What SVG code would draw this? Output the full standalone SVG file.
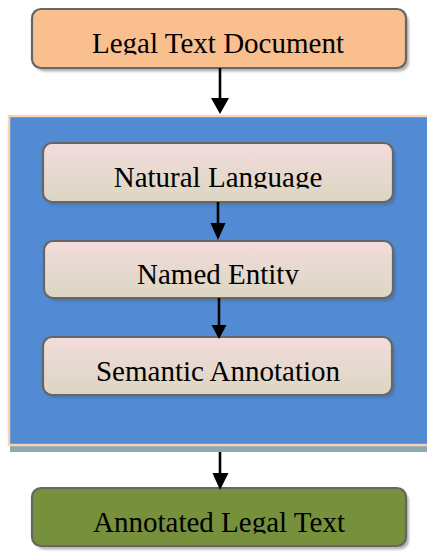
<svg xmlns="http://www.w3.org/2000/svg" width="427" height="552" viewBox="0 0 427 552">
  <style>
    .box { stroke: #666666; stroke-width: 2.2; }
    .lbl { font-family: "Liberation Serif", "Times New Roman", serif; font-size: 29px; fill: #000; text-anchor: middle; }
    .shadow-grey { fill: #b4b4b4; }
    .shadow-blue { fill: #4a78b8; }
    .wire { stroke: #000; stroke-width: 2.6; fill: none; }
    .head { fill: #000; }
  </style>
  <defs>
    <linearGradient id="stepFill" x1="0" y1="0" x2="0" y2="1">
      <stop offset="0" stop-color="#f3dcdc"/>
      <stop offset="1" stop-color="#dcd6c2"/>
    </linearGradient>
    <filter id="soft" x="-5%" y="-10%" width="110%" height="120%">
      <feGaussianBlur stdDeviation="0.8"/>
    </filter>
    <clipPath id="clipTop"><rect x="0" y="0" width="427" height="54.5"/></clipPath>
    <clipPath id="clipNL"><rect x="0" y="150" width="427" height="38.5"/></clipPath>
    <clipPath id="clipNE"><rect x="0" y="245" width="427" height="39.5"/></clipPath>
    <clipPath id="clipSA"><rect x="0" y="340" width="427" height="45"/></clipPath>
    <clipPath id="clipOut"><rect x="0" y="495" width="427" height="38.5"/></clipPath>
  </defs>

  <!-- source document -->
  <g id="legal-text-document">
    <rect class="shadow-grey" x="35" y="12.5" width="374" height="59" rx="9" filter="url(#soft)"/>
    <rect class="box" x="32" y="9" width="374" height="59" rx="9" fill="#f9bf8f"/>
    <text class="lbl" x="218" y="53" clip-path="url(#clipTop)">Legal Text Document</text>
  </g>

  <!-- processing pipeline container -->
  <g id="pipeline">
    <rect x="10" y="118" width="420" height="334" fill="#8eaaae"/>
    <rect x="9" y="116" width="420" height="329" fill="#528bd3" stroke="#fbd3b3" stroke-width="2.4"/>
  </g>

  <g id="natural-language">
    <rect class="shadow-blue" x="46" y="146.5" width="350" height="59" rx="9" filter="url(#soft)"/>
    <rect class="box" x="43" y="143" width="350" height="59" rx="9" fill="url(#stepFill)"/>
    <text class="lbl" x="218" y="187" clip-path="url(#clipNL)">Natural Language</text>
  </g>

  <g id="named-entity">
    <rect class="shadow-blue" x="47" y="244.5" width="349" height="57" rx="9" filter="url(#soft)"/>
    <rect class="box" x="44" y="241" width="349" height="57" rx="9" fill="url(#stepFill)"/>
    <text class="lbl" x="218" y="284" clip-path="url(#clipNE)">Named Entity</text>
  </g>

  <g id="semantic-annotation">
    <rect class="shadow-blue" x="46" y="340.5" width="349" height="58" rx="9" filter="url(#soft)"/>
    <rect class="box" x="43" y="337" width="349" height="58" rx="9" fill="url(#stepFill)"/>
    <text class="lbl" x="218" y="381" clip-path="url(#clipSA)">Semantic Annotation</text>
  </g>

  <!-- result -->
  <g id="annotated-legal-text">
    <rect class="shadow-grey" x="35" y="491.5" width="374" height="58" rx="9" filter="url(#soft)"/>
    <rect class="box" x="32" y="488" width="374" height="58" rx="9" fill="#76903b"/>
    <text class="lbl" x="219" y="532" clip-path="url(#clipOut)">Annotated Legal Text</text>
  </g>

  <!-- connectors -->
  <g id="connectors">
    <line class="wire" x1="220" y1="68" x2="220" y2="100"/>
    <polygon class="head" points="211,98 229,98 220,114"/>
    <line class="wire" x1="218" y1="202" x2="218" y2="225"/>
    <polygon class="head" points="210.5,223 225.5,223 218,240"/>
    <line class="wire" x1="219" y1="298" x2="219" y2="327"/>
    <polygon class="head" points="211.5,325 226.5,325 219,339"/>
    <line class="wire" x1="220" y1="452" x2="220" y2="475"/>
    <polygon class="head" points="212.5,473 228.5,473 220,490"/>
  </g>
</svg>
